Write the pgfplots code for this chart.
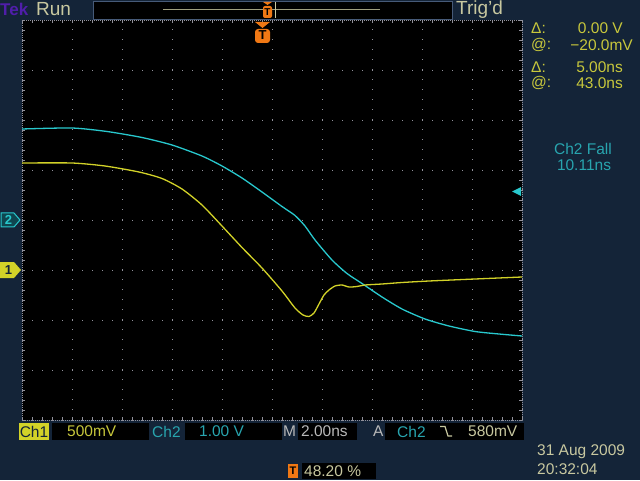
\documentclass[border=0pt]{standalone}
\usepackage{pgfplots}
\pgfplotsset{compat=1.18}
\usepackage{fontspec}
\setmainfont{Liberation Sans}
\definecolor{bg}{RGB}{20,36,56}
\definecolor{gridgray}{RGB}{145,145,155}
\definecolor{trcyan}{RGB}{40,200,205}
\definecolor{tryellow}{RGB}{210,210,40}
\definecolor{txtyellow}{RGB}{200,200,60}
\definecolor{khaki}{RGB}{200,200,160}
\definecolor{txtcyan}{RGB}{40,165,175}
\definecolor{tekorange}{RGB}{240,120,20}
\definecolor{tekpurple}{RGB}{80,30,170}
\definecolor{lgray}{RGB}{185,185,185}
\definecolor{barborder}{RGB}{70,90,120}
\definecolor{darkteal}{RGB}{15,70,80}
\newcommand\tf{\fontsize{15.5}{16}\selectfont}
\newcommand\topf{\fontsize{19}{20}\selectfont}
\begin{document}
\begin{tikzpicture}
\useasboundingbox (0,0) rectangle (640pt,480pt);
\fill[bg] (0,0) rectangle (640pt,480pt);
\begin{axis}[at={(22pt,60pt)},anchor=south west,scale only axis,
  width=500pt,height=400pt,
  xmin=0,xmax=10,ymin=-4,ymax=4,
  xtick={0,...,10},ytick={-4,...,4},
  minor x tick num=4,minor y tick num=4,
  xticklabels={},yticklabels={},
  grid=major,
  major grid style={draw=gridgray,line width=0.9pt,dash pattern=on 0.9pt off 9.1pt},
  axis background/.style={fill=black},
  axis line style={draw=gridgray,line width=0.8pt,dash pattern=on 0.8pt off 1.2pt},
  tick align=inside,major tick length=3pt,minor tick length=3pt,
  tick style={draw=gridgray,line width=0.8pt},
  clip=true]
\addplot[trcyan,line width=1.3pt,smooth,tension=0.4] coordinates {
(0,1.82) (1.0,1.84) (1.7,1.77) (2.4,1.65) (3.0,1.5) (3.6,1.28) (4.0,1.08)
(4.4,0.84) (4.8,0.56) (5.2,0.27) (5.46,0.09) (5.66,-0.12) (5.86,-0.40)
(6.2,-0.80) (6.5,-1.07) (6.8,-1.27) (7.2,-1.54) (7.6,-1.78) (8.06,-1.98)
(8.54,-2.12) (9.06,-2.23) (9.54,-2.28) (10,-2.32)};
\addplot[tryellow,line width=1.3pt,smooth,tension=0.4] coordinates {
(0,1.14) (1,1.14) (1.66,1.08) (2.34,0.96) (2.8,0.83) (3.2,0.62) (3.6,0.30)
(4.0,-0.12) (4.4,-0.55) (4.8,-0.96) (5.2,-1.42) (5.46,-1.76) (5.62,-1.9)
(5.74,-1.93) (5.84,-1.86) (5.94,-1.68) (6.04,-1.5) (6.14,-1.4) (6.26,-1.32)
(6.4,-1.3) (6.54,-1.34) (6.7,-1.33) (6.86,-1.3) (7.2,-1.28) (7.6,-1.25)
(8.14,-1.22) (9.06,-1.18) (10,-1.14)};
\end{axis}
\begin{scope}[shift={(0,480pt)},x=1pt,y=-1pt]
% top bar
\node[anchor=west,inner sep=0,text=tekpurple,font=\bfseries\fontsize{17}{18}\selectfont] at (0,9) {Tek};
\node[anchor=west,inner sep=0,text=khaki,font=\topf] at (36,9) {Run};
\draw[barborder,line width=0.8pt,fill=black] (93,1) rectangle (452,19);
\draw[khaki!80!black,line width=1pt] (163,10) -- (380,10);
\draw[khaki,line width=1pt] (275,2) -- (275,18);
\fill[tekorange] (263,2) -- (272,2) -- (267.5,5) -- cycle;
\fill[tekorange,rounded corners=2pt] (263,6) rectangle (272,18);
\node[inner sep=0,text=black,font=\bfseries\fontsize{10}{10}\selectfont] at (267.5,12) {T};
\node[anchor=west,inner sep=0,text=khaki,font=\topf] at (456,10) {Trig'd};
% trigger marker
\fill[tekorange] (255,22) -- (270,22) -- (262.5,28) -- cycle;
\fill[tekorange,rounded corners=3pt] (255,29) rectangle (270,43);
\node[inner sep=0,text=black,font=\bfseries\fontsize{13}{13}\selectfont] at (262.5,35.5) {T};
% trigger level arrow
\fill[trcyan] (512,191.5) -- (521,187) -- (521,196) -- cycle;
% channel markers
\filldraw[fill=darkteal,draw=trcyan,line width=1pt] (1,213) -- (14,213) -- (20,220) -- (14,227) -- (1,227) -- cycle;
\node[inner sep=0,text=trcyan,font=\bfseries\fontsize{13}{13}\selectfont] at (8.5,220) {2};
\fill[tryellow] (0,262) -- (14,262) -- (21,270) -- (14,278) -- (0,278) -- cycle;
\node[inner sep=0,text=bg,font=\bfseries\fontsize{13}{13}\selectfont] at (8.5,270) {1};
% right panel
\node[anchor=west,inner sep=0,text=txtyellow,font=\tf] at (531,28) {Δ:};
\node[anchor=east,inner sep=0,text=txtyellow,font=\tf] at (623,28) {0.00 V};
\node[anchor=west,inner sep=0,text=txtyellow,font=\tf] at (531,45) {@:};
\node[anchor=east,inner sep=0,text=txtyellow,font=\tf] at (633,45) {−20.0mV};
\node[anchor=west,inner sep=0,text=txtyellow,font=\tf] at (531,67.5) {Δ:};
\node[anchor=east,inner sep=0,text=txtyellow,font=\tf] at (623,67.5) {5.00ns};
\node[anchor=west,inner sep=0,text=txtyellow,font=\tf] at (531,83) {@:};
\node[anchor=east,inner sep=0,text=txtyellow,font=\tf] at (623,83) {43.0ns};
\node[inner sep=0,text=txtcyan,font=\tf] at (583,149) {Ch2 Fall};
\node[inner sep=0,text=txtcyan,font=\tf] at (584,165) {10.11ns};
% bottom row
\fill[tryellow] (19,423) rectangle (49,440);
\node[inner sep=0,text=bg,font=\tf] at (34,431.5) {Ch1};
\fill[black] (52,423) rectangle (149,440);
\node[anchor=west,inner sep=0,text=txtyellow,font=\tf] at (67,431.5) {500mV};
\node[anchor=west,inner sep=0,text=txtcyan,font=\tf] at (152,431.5) {Ch2};
\fill[black] (185,423) rectangle (282,440);
\node[anchor=west,inner sep=0,text=txtcyan,font=\tf] at (199,431.5) {1.00 V};
\node[anchor=west,inner sep=0,text=lgray,font=\tf] at (283,431.5) {M};
\fill[black] (298,423) rectangle (357,440);
\node[anchor=west,inner sep=0,text=lgray,font=\tf] at (301,431.5) {2.00ns};
\node[anchor=west,inner sep=0,text=lgray,font=\tf] at (373,431.5) {A};
\fill[black] (385,423) rectangle (524,440);
\node[anchor=west,inner sep=0,text=txtcyan,font=\tf] at (397,431.5) {Ch2};
\draw[khaki,line width=1.2pt] (440,426.5) -- (445,426.5) -- (448,436) -- (452,436);
\node[anchor=west,inner sep=0,text=khaki,font=\tf] at (468,431.5) {580mV};
\fill[tekorange] (288,464) rectangle (298,478);
\node[inner sep=0,text=black,font=\bfseries\fontsize{11}{11}\selectfont] at (293,471) {T};
\fill[black] (302,463) rectangle (376,479);
\node[anchor=west,inner sep=0,text=khaki,font=\tf] at (304,471) {48.20 \%};
\node[anchor=west,inner sep=0,text=khaki,font=\tf] at (537,452) {31 Aug 2009};
\node[anchor=west,inner sep=0,text=khaki,font=\tf] at (537,469) {20:32:04};
\end{scope}
\end{tikzpicture}
\end{document}
